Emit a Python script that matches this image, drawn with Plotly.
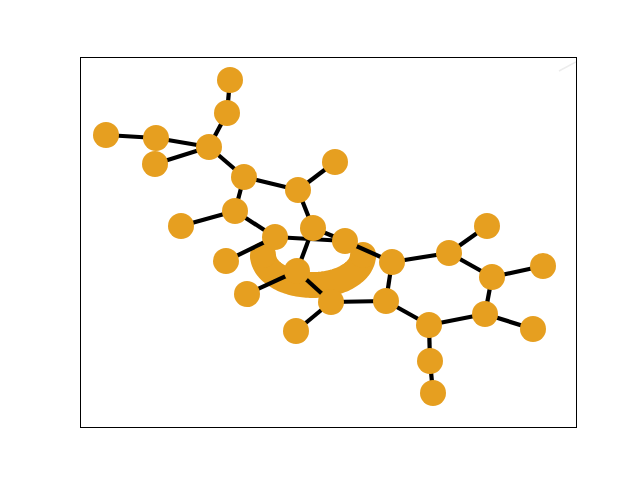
import numpy as np
import plotly.graph_objects as go

# node positions (screen-like units, y grows downward)
node_names = ["A", "B", "C", "D", "E", "F", "G", "H", "I", "J", "K", "L", "M", "N",
              "O", "P", "Q", "R", "S", "T", "U", "V", "W", "X", "Y",
              "Z", "AA", "AB", "AC", "AD"]
node_x = [230, 227, 106, 156, 155, 209, 244, 335, 298, 235, 181, 313, 275, 345,
          392, 449, 487, 492, 543, 386, 485, 533, 429, 430, 433,
          226, 297, 247, 331, 296]
node_y = [80, 113, 135, 138, 164, 147, 177, 162, 190, 211, 226, 228, 237, 241,
          262, 253, 226, 277, 266, 301, 314, 329, 325, 361, 393,
          261, 271, 294, 302, 331]

edges = [("A", "B"), ("B", "F"), ("C", "D"), ("D", "F"), ("E", "F"), ("F", "G"),
         ("G", "I"), ("G", "J"), ("H", "I"), ("I", "L"), ("J", "K"), ("J", "M"),
         ("M", "N"), ("L", "N"), ("L", "AA"), ("Z", "M"), ("AB", "AA"), ("AA", "AC"),
         ("AC", "T"), ("AC", "AD"), ("N", "O"), ("O", "T"), ("O", "P"), ("P", "Q"),
         ("P", "R"), ("R", "S"), ("R", "U"), ("U", "V"), ("U", "W"), ("W", "T"),
         ("W", "X"), ("X", "Y")]

# the big self-loop
loop_center = (313, 255)
loop_radii = (50, 30)

# faint stray stroke in the top right corner
stray_x = [559, 576]
stray_y = [71, 62]

orange = "#E69F20"
pos = {n: (x, y) for n, x, y in zip(node_names, node_x, node_y)}

fig = go.Figure()

fig.add_trace(go.Scatter(x=stray_x, y=stray_y, mode="lines",
                         line=dict(color="#ececec", width=1.5),
                         hoverinfo="skip", showlegend=False))

# loop: lower half of an ellipse, with round ends
t = np.radians(np.linspace(0, 180, 90))
lx = loop_center[0] + loop_radii[0] * np.cos(t)
ly = loop_center[1] + loop_radii[1] * np.sin(t)
fig.add_trace(go.Scatter(x=lx, y=ly, mode="lines",
                         line=dict(color=orange, width=26, simplify=False),
                         hoverinfo="skip", showlegend=False))
fig.add_trace(go.Scatter(x=[lx[0], lx[-1]], y=[ly[0], ly[-1]], mode="markers",
                         marker=dict(color=orange, size=26, line=dict(width=0)),
                         hoverinfo="skip", showlegend=False))

ex, ey = [], []
for a, b in edges:
    ex += [pos[a][0], pos[b][0], None]
    ey += [pos[a][1], pos[b][1], None]
fig.add_trace(go.Scatter(x=ex, y=ey, mode="lines",
                         line=dict(color="black", width=4.2),
                         hoverinfo="skip", showlegend=False))

fig.add_trace(go.Scatter(x=node_x, y=node_y, mode="markers", text=node_names,
                         marker=dict(color=orange, size=26, line=dict(width=0)),
                         showlegend=False))

axis = dict(showline=True, mirror=True, linecolor="black", linewidth=1,
            showgrid=False, zeroline=False, showticklabels=False, ticks="")
fig.update_layout(
    width=640, height=480,
    margin=dict(l=73, r=72, t=50, b=61),
    plot_bgcolor="white", paper_bgcolor="white",
    xaxis=dict(range=[81, 576], **axis),
    yaxis=dict(range=[427, 58], **axis),
)

fig.write_html("out.html")
